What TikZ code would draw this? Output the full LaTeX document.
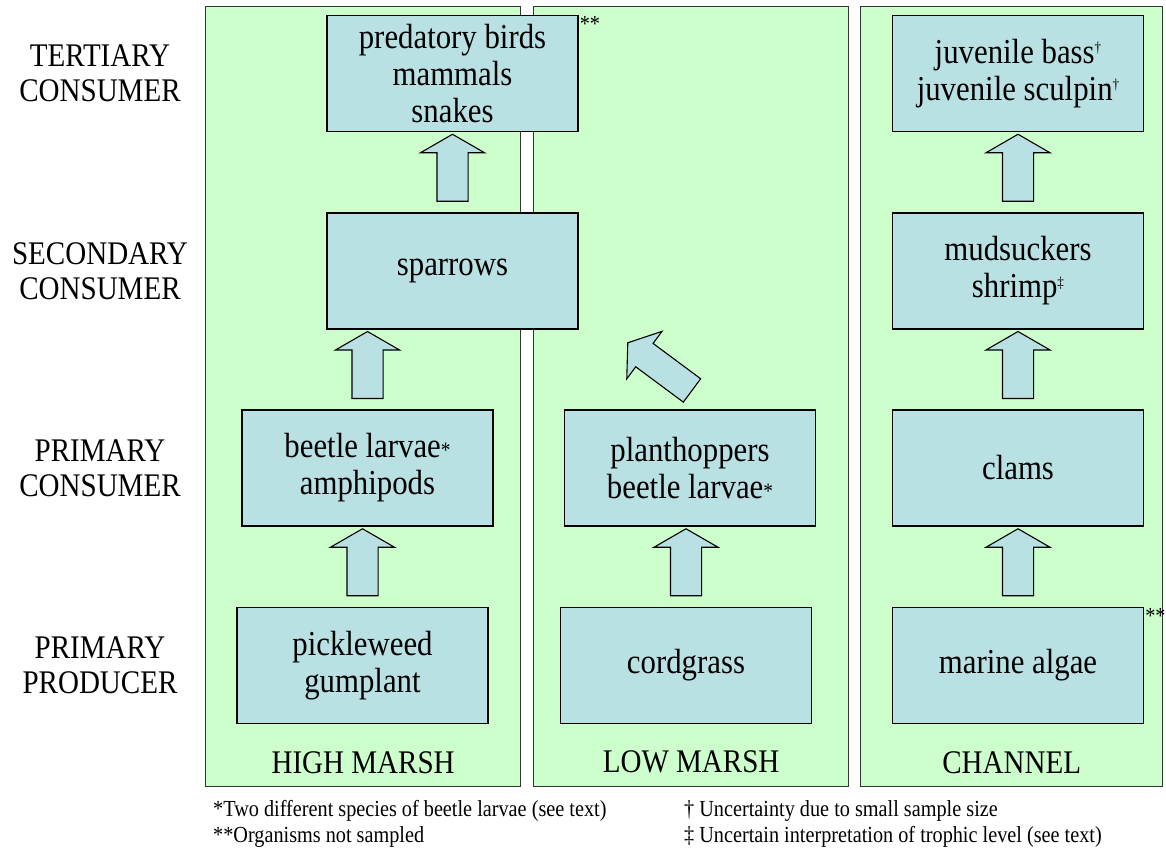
\documentclass[tikz,border=0pt]{standalone}
\usepackage{fontspec}
\setmainfont{Liberation Serif}[FakeStretch=0.88]
\usepackage{tikz}
\usetikzlibrary{calc,positioning,shapes.arrows}

\definecolor{marsh}{RGB}{204,255,204}
\definecolor{orgblue}{RGB}{185,224,227}
\newcommand\mk[1]{\raisebox{0.3em}{\fontsize{15}{15}\selectfont#1}}
\newcommand\larvamk{{\fontsize{22}{22}\selectfont*}}

\begin{document}
\begin{tikzpicture}[x=1pt,y=-1pt,
  panel/.style={draw=black!80,fill=marsh,line width=1.3pt,
    minimum width=315pt,minimum height=780pt,anchor=north west,inner sep=0pt},
  org/.style={draw=black,fill=orgblue,line width=1.1pt,
    minimum width=251pt,minimum height=116pt,inner sep=0pt,
    align=center,font=\fontsize{35}{37}\selectfont},
  lvl/.style={align=center,font=\fontsize{33}{35}\selectfont},
  zone/.style={font=\fontsize{33}{35}\selectfont},
  barrow/.style={single arrow,draw=black,fill=orgblue,line width=1.1pt,
    inner xsep=0pt,inner ysep=15pt,single arrow head extend=16.5pt,
    single arrow tip angle=120,minimum height=67pt,outer sep=0pt},
  note/.style={anchor=west,inner sep=0pt,font=\fontsize{23}{23}\selectfont},
  star/.style={anchor=north west,inner sep=1pt,font=\fontsize{23}{23}\selectfont}
]
\useasboundingbox (0,0) rectangle (1166,854);

% trophic levels
\node[lvl] (ter) at (100,73)  {TERTIARY\\CONSUMER};
\node[lvl] (sec) at (100,271) {SECONDARY\\CONSUMER};
\node[lvl] (pcn) at (100,468) {PRIMARY\\CONSUMER};
\node[lvl] (ppr) at (100,665) {PRIMARY\\PRODUCER};

% habitats
\node[panel] (high) at (205,6) {};
\node[panel] (low)  at (533,6) {};
\node[panel,minimum width=302pt] (chan) at (860,6) {};
\node[zone] at ($(high.south)+(0,-25)$) {HIGH MARSH};
\node[zone] at ($(low.south)+(0,-25)$)  {LOW MARSH};
\node[zone] at ($(chan.south)+(0,-25)$) {CHANNEL};

% organisms
\node[org] (pred)  at (452.5,73.5) {predatory birds\\mammals\\snakes};
\node[org] (spar)  at (452.5,271)  {sparrows};
\node[org] (beet)  at (367.5,468)  {beetle larvae\larvamk\\amphipods};
\node[org] (pick)  at (362.5,665.5){pickleweed\\gumplant};
\node[org] (plant) at (690,468)    {planthoppers\\beetle larvae\larvamk};
\node[org] (cord)  at (686,665.5)  {cordgrass};
\node[org] (juv)   at (1018,73.5)  {juvenile bass\mk{†}\\juvenile sculpin\mk{†}};
\node[org] (mud)   at (1018,271)   {mudsuckers\\shrimp\mk{‡}};
\node[org] (clam)  at (1018,468)   {clams};
\node[org] (alga)  at (1018,665.5) {marine algae};
\node[star] at (pred.north east) {**};
\node[star] at (alga.north east) {**};

% energy flow
\node[barrow,rotate=90] at ($(spar.north)!0.5!(pred.south)$) {};
\node[barrow,rotate=90] at ($(beet.north)!0.5!(beet.north|-spar.south)$) {};
\node[barrow,rotate=90] at ($(pick.north)!0.5!(pick.north|-beet.south)$) {};
\node[barrow,rotate=90] at ($(cord.north)!0.5!(cord.north|-plant.south)$) {};
\node[barrow,rotate=143.4,anchor=tail,minimum height=80pt,inner ysep=14pt,
  single arrow head extend=15pt,single arrow tip angle=110]
  at ($(plant.north)+(2,-19)$) {};
\node[barrow,rotate=90] at ($(mud.north)!0.5!(juv.south)$) {};
\node[barrow,rotate=90] at ($(clam.north)!0.5!(mud.south)$) {};
\node[barrow,rotate=90] at ($(alga.north)!0.5!(clam.south)$) {};

% footnotes
\node[note] at (213,811) {*Two different species of beetle larvae (see text)};
\node[note] at (213,837) {**Organisms not sampled};
\node[note] at (684,811) {† Uncertainty due to small sample size};
\node[note] at (684,837) {‡ Uncertain interpretation of trophic level (see text)};
\end{tikzpicture}
\end{document}
